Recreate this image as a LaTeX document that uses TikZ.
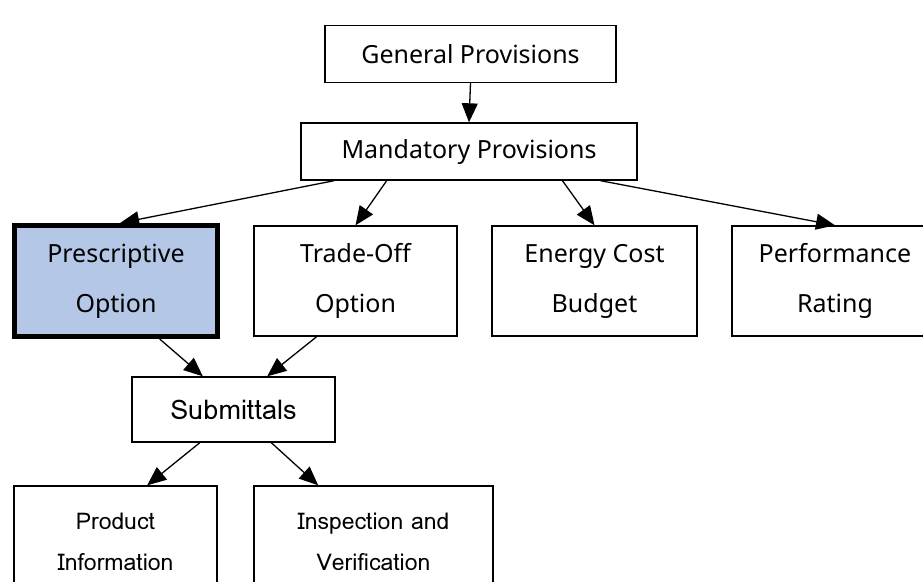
\documentclass[tikz,border=0pt]{standalone}
\usepackage{fontspec}
\setmainfont{Noto Sans}
\newfontfamily\lomafont[Script=Thai]{Loma}
\usetikzlibrary{arrows.meta,calc}

\definecolor{selblue}{HTML}{B4C7E7}
\tikzset{
  box/.style={draw, line width=1.4pt, rectangle, inner sep=0pt, align=center,
    minimum width=203pt, minimum height=110pt,
    font=\fontsize{25pt}{50pt}\selectfont},
  lowbox/.style={box, font=\lomafont\fontsize{23pt}{41pt}\selectfont},
  thickbox/.style={box, line width=5pt, fill=selblue},
  link/.style={-{Triangle[length=19pt,width=16pt]}, line width=1.3pt},
}

\begin{document}
\begin{tikzpicture}[x=1pt,y=-1pt]
  \useasboundingbox (0,0) rectangle (923,581);

  % top of the hierarchy
  \node[box, minimum width=291pt, minimum height=57pt] (gen) at (470.5,54) {General Provisions};
  \node[box, minimum width=336pt, minimum height=57pt] (mand) at (469,151.5) {Mandatory Provisions};

  % compliance paths
  \node[thickbox, minimum width=203pt, minimum height=111pt] (presc) at (116,281) {Prescriptive\\Option};
  \node[box] (trade) at (355.5,281) {Trade-Off\\Option};
  \node[box, minimum width=205pt] (energy) at (594.5,281) {Energy Cost\\Budget};
  \node[box, minimum width=206pt] (perf) at (835,281) {Performance\\Rating};

  % submittals and their parts
  \node[lowbox, minimum height=65pt, font=\lomafont\fontsize{27pt}{30pt}\selectfont] (sub) at (233.5,409.5) {Submittals};
  \node[lowbox, minimum height=112pt] (prod) at (115.5,542) {Product\\Information};
  \node[lowbox, minimum width=239pt, minimum height=112pt] (insp) at (373.5,542) {Inspection and\\Verification};

  % connectors
  \draw[link] (gen.south) -- (mand.north);
  \draw[link] ($(mand.south west)!0.10!(mand.south east)$) -- ($(presc.north west)!0.52!(presc.north east)$);
  \draw[link] ($(mand.south west)!0.256!(mand.south east)$) -- (trade.north);
  \draw[link] ($(mand.south west)!0.777!(mand.south east)$) -- (energy.north);
  \draw[link] ($(mand.south west)!0.89!(mand.south east)$) -- (perf.north);
  \draw[link] ($(presc.south west)!0.71!(presc.south east)$) -- ($(sub.north west)!0.35!(sub.north east)$);
  \draw[link] ($(trade.south west)!0.31!(trade.south east)$) -- ($(sub.north west)!0.665!(sub.north east)$);
  \draw[link] ($(sub.south west)!0.335!(sub.south east)$) -- ($(prod.north west)!0.655!(prod.north east)$);
  \draw[link] ($(sub.south west)!0.685!(sub.south east)$) -- ($(insp.north west)!0.27!(insp.north east)$);
\end{tikzpicture}
\end{document}
